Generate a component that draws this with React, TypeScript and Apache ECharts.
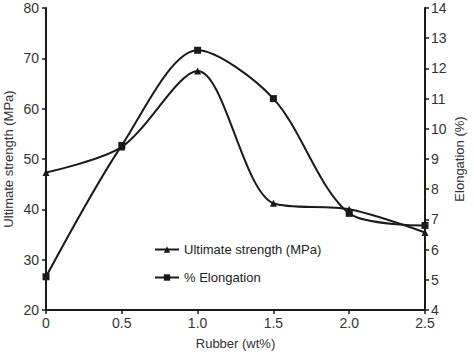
import React, { useEffect, useRef } from "react";
import * as echarts from "echarts";

const rubber = [0, 0.5, 1.0, 1.5, 2.0, 2.5];
const strength = [47.3, 52.4, 67.5, 41.2, 40.0, 35.4];
const elongation = [5.1, 9.45, 12.6, 11.0, 7.2, 6.8];
const xTicks = ["0", "0.5", "1.0", "1.5", "2.0", "2.5"];

const font = "'Liberation Sans', Arial, sans-serif";
const ink = "#1a1a1a";

export default function App() {
  const ref = useRef<HTMLDivElement>(null);
  useEffect(() => {
    if (!ref.current) return;
    const chart = echarts.init(ref.current, undefined, { renderer: "svg" });
    const axisCommon = {
      axisLine: { show: true, lineStyle: { color: ink, width: 2 } },
      axisTick: { show: true, length: 4, lineStyle: { color: ink, width: 1.5 } },
      axisLabel: { color: "#333", fontSize: 14, fontFamily: font },
      splitLine: { show: false },
      nameTextStyle: { color: "#333", fontSize: 13, fontFamily: font },
      nameMoveOverlap: false,
    };
    chart.setOption({
      animation: false,
      grid: { left: 46, right: 49, top: 8, bottom: 45, outerBoundsMode: "none", containLabel: false },
      legend: {
        orient: "vertical",
        left: 149,
        top: 238,
        itemWidth: 24,
        itemHeight: 8,
        itemGap: 15,
        textStyle: { color: "#222", fontSize: 13, fontFamily: font },
        data: ["Ultimate strength (MPa)", "% Elongation"],
      },
      xAxis: {
        type: "value",
        min: 0,
        max: 2.5,
        interval: 0.5,
        name: "Rubber (wt%)",
        nameLocation: "middle",
        nameGap: 27,
        ...axisCommon,
        axisLabel: {
          ...axisCommon.axisLabel,
          margin: 6,
          formatter: (v: number) => xTicks[Math.round(v / 0.5)] ?? "",
        },
      },
      yAxis: [
        {
          type: "value",
          min: 20,
          max: 80,
          interval: 10,
          name: "Ultimate strength (MPa)",
          nameLocation: "middle",
          nameGap: 31,
          nameRotate: 90,
          ...axisCommon,
          axisLabel: { ...axisCommon.axisLabel, margin: 7 },
        },
        {
          type: "value",
          position: "right",
          min: 4,
          max: 14,
          interval: 1,
          name: "Elongation (%)",
          nameLocation: "middle",
          nameGap: 28,
          nameRotate: 90,
          ...axisCommon,
          axisLabel: { ...axisCommon.axisLabel, margin: 6 },
        },
      ],
      series: [
        {
          name: "Ultimate strength (MPa)",
          type: "line",
          yAxisIndex: 0,
          smooth: 0.3,
          data: rubber.map((x, i) => [x, strength[i]]),
          symbol: "triangle",
          symbolSize: 7,
          lineStyle: { color: ink, width: 2 },
          itemStyle: { color: ink },
        },
        {
          name: "% Elongation",
          type: "line",
          yAxisIndex: 1,
          smooth: 0.3,
          data: rubber.map((x, i) => [x, elongation[i]]),
          symbol: "rect",
          symbolSize: 7,
          lineStyle: { color: ink, width: 2 },
          itemStyle: { color: ink },
        },
      ],
    });
    return () => chart.dispose();
  }, []);
  return <div ref={ref} style={{ width: 474, height: 355, position: "absolute", left: 0, top: 0, background: "#fff" }} />;
}
